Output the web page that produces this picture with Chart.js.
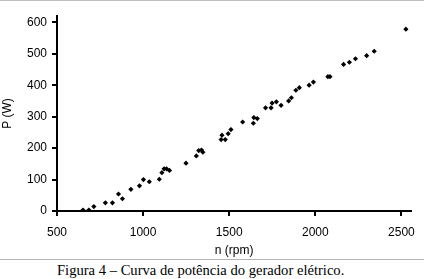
<!DOCTYPE html>
<html>
<head>
<meta charset="utf-8">
<script src="https://cdn.jsdelivr.net/npm/chart.js@4.4.0/dist/chart.umd.min.js"></script>
<style>
  html, body { margin: 0; padding: 0; background: #fff; }
  body { width: 424px; height: 279px; position: relative; overflow: hidden; }
  #topo { position: absolute; left: 0; top: 0; width: 424px; height: 1px; background: #c0c0c0; }
  #caixa { position: absolute; left: 0; top: 0; width: 424px; height: 258px; }
  #linha { position: absolute; left: 0; top: 259px; width: 424px; height: 1px; background: #b4b4b4; }
  #legenda { position: absolute; left: 57px; top: 262px; font-family: "Liberation Serif", "Times New Roman", serif; font-size: 14.6px; color: #000; white-space: nowrap; }
</style>
</head>
<body>
<div id="topo"></div>
<div id="caixa"><canvas id="graficoPotencia"></canvas></div>
<div id="linha"></div>
<div id="legenda">Figura 4 – Curva de potência do gerador elétrico.</div>
<script>
// rotação (rpm) e potência (W)
const rotacao = [651, 685, 714, 781, 822, 857, 880, 929, 979, 1002, 1036, 1094, 1109, 1122, 1136, 1153,
    1249, 1309, 1323, 1339, 1347, 1453, 1458, 1477, 1494, 1510, 1578, 1640, 1643, 1663, 1711, 1743,
    1749, 1774, 1801, 1845, 1861, 1887, 1907, 1964, 1989, 2073, 2085, 2164, 2198, 2233, 2298, 2342, 2526];
const potencia = [3, 3, 14, 26, 26, 54, 39, 69, 80, 100, 93, 101, 122, 134, 134, 129,
    152, 175, 192, 194, 187, 227, 241, 227, 246, 259, 283, 279, 297, 294, 328, 328,
    343, 347, 336, 350, 360, 384, 392, 400, 410, 427, 427, 466, 473, 484, 494, 508, 578];
const ticksX = [500, 1000, 1500, 2000, 2500];
const ticksY = [0, 100, 200, 300, 400, 500, 600];

const pontos = rotacao.map((n, i) => ({ x: n, y: potencia[i] }));
const fonte = { family: "'Liberation Sans', Arial, sans-serif", size: 12 };

const ctx = document.getElementById('graficoPotencia').getContext('2d');
new Chart(ctx, {
    type: 'scatter',
    data: {
        datasets: [{
            label: 'P (W)',
            data: pontos,
            backgroundColor: '#000',
            borderColor: '#000',
            pointStyle: 'rectRot',
            pointRadius: 2.6,
            borderWidth: 0
        }]
    },
    options: {
        responsive: true,
        maintainAspectRatio: false,
        animation: false,
        layout: { padding: { top: 16, right: 8, left: 0, bottom: 0 } },
        plugins: { legend: { display: false }, tooltip: { enabled: false } },
        scales: {
            x: {
                type: 'linear',
                min: 500,
                max: 2557,
                afterBuildTicks: (s) => { s.ticks = ticksX.map(v => ({ value: v })); },
                afterFit: (s) => { s.height = 47; },
                border: { color: '#000', width: 2 },
                grid: { drawOnChartArea: false, color: '#000', lineWidth: 2, tickLength: 5 },
                ticks: { color: '#000', font: fonte, padding: 9, maxRotation: 0, callback: (v) => String(v) },
                title: { display: true, text: 'n (rpm)', color: '#000', font: fonte, padding: { top: 4, bottom: 0 } }
            },
            y: {
                min: 0,
                max: 620,
                afterBuildTicks: (s) => { s.ticks = ticksY.map(v => ({ value: v })); },
                afterFit: (s) => { s.width = 57; },
                border: { color: '#000', width: 2 },
                grid: { drawOnChartArea: false, color: '#000', lineWidth: 2, tickLength: 5 },
                ticks: { color: '#000', font: fonte, padding: 5, callback: (v) => String(v) },
                title: { display: true, text: 'P (W)', color: '#000', font: fonte, padding: { top: 0, bottom: 0 } }
            }
        }
    }
});
</script>
</body>
</html>
